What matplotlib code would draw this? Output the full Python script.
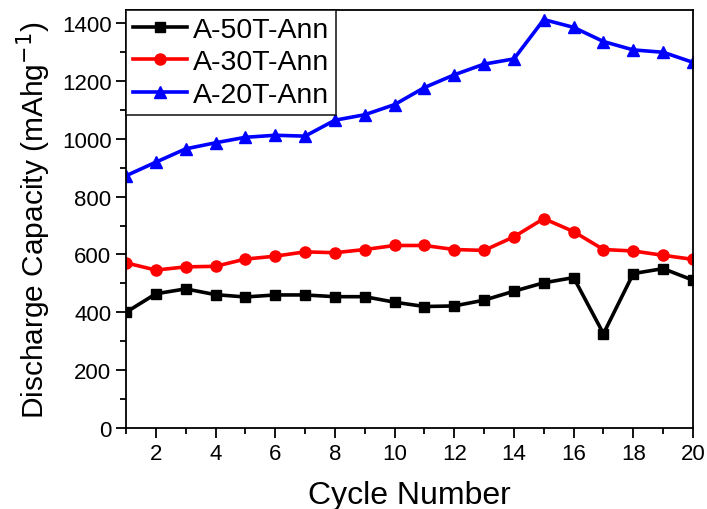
import matplotlib

matplotlib.use("Agg")
import matplotlib.pyplot as plt  # noqa: E402
from matplotlib.ticker import MultipleLocator  # noqa: E402

plt.rcParams["font.family"] = ["Liberation Sans", "DejaVu Sans"]

cycles = list(range(1, 21))
a50 = [400, 464, 481, 461, 453, 460, 460, 454, 454, 435,
       420, 422, 442, 473, 502, 520, 326, 534, 551, 511]
a30 = [571, 546, 557, 559, 584, 594, 609, 606, 617, 631,
       631, 617, 614, 661, 724, 679, 617, 612, 597, 583]
a20 = [872, 919, 965, 986, 1005, 1012, 1009, 1064, 1083, 1118,
       1177, 1221, 1258, 1276, 1412, 1385, 1336, 1307, 1299, 1264]
labels = ["A-50T-Ann", "A-30T-Ann", "A-20T-Ann"]

fig = plt.figure(figsize=(7.07, 5.10), dpi=100)
ax = fig.add_axes([0.1782, 0.1588, 0.802, 0.8196])

ax.plot(cycles, a50, color="black", marker="s", lw=2.6, ms=7, label=labels[0])
ax.plot(cycles, a30, color="#ff0000", marker="o", lw=2.6, ms=8, label=labels[1])
ax.plot(cycles, a20, color="#0000ff", marker="^", lw=2.6, ms=8, label=labels[2])

ax.set_xlim(1, 20)
ax.set_ylim(0, 1445)
ax.xaxis.set_major_locator(MultipleLocator(2))
ax.xaxis.set_minor_locator(MultipleLocator(1))
ax.yaxis.set_major_locator(MultipleLocator(200))
ax.yaxis.set_minor_locator(MultipleLocator(100))
ax.tick_params(which="major", length=7, width=1.3, labelsize=16, direction="out")
ax.tick_params(which="minor", length=4, width=1.3, direction="out")
for s in ax.spines.values():
    s.set_linewidth(1.3)

ax.set_xlabel("Cycle Number", fontsize=23, labelpad=12)
ax.set_ylabel("Discharge Capacity (mAhg$^{-1}$)", fontsize=21.5, labelpad=6)

leg = ax.legend(loc="upper left", borderaxespad=0, fancybox=False,
                edgecolor="black", fontsize=20.5, handlelength=1.9,
                handletextpad=0.2, labelspacing=0.22, borderpad=0.25)
leg.get_frame().set_linewidth(1.3)

fig.savefig("out.png", dpi=100)
